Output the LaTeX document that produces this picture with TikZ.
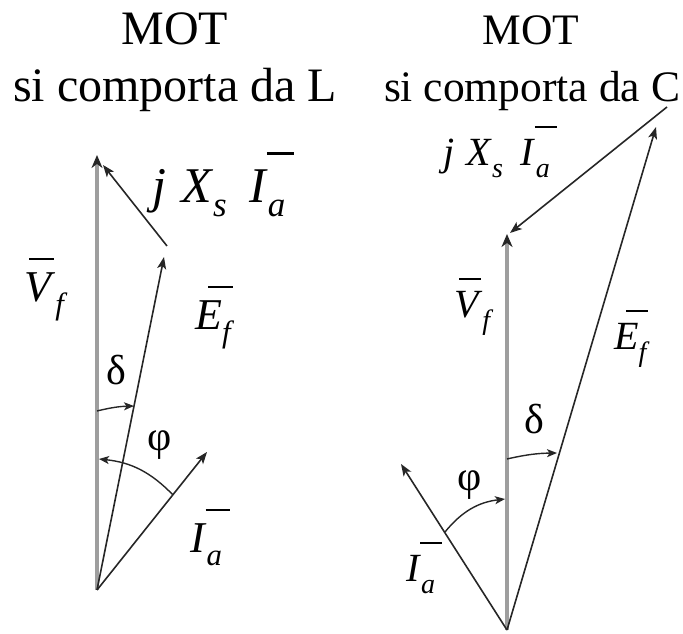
\documentclass[tikz,border=0pt]{standalone}
\usepackage{fontspec}
\setmainfont{Liberation Serif}
\usetikzlibrary{arrows.meta}
\newcommand\phasor[3][0.3em]{\rlap{\kern#1\raisebox{0.95em}{\rule{0.55em}{0.06em}}}\textit{#2}\raisebox{-0.28em}{\scalebox{0.7}{\textit{#3}}}}
\newcommand\jxs{\textit{j}\hspace{0.3em}\textit{X}\raisebox{-0.28em}{\scalebox{0.7}{\textit{s}}}\hspace{0.45em}}
\begin{document}
\begin{tikzpicture}[x=1pt,y=1pt,
  vec/.style={line width=1.6pt, draw=black!85, -{Stealth[length=12pt,width=9pt,inset=3pt]}},
  gvec/.style={line width=4.5pt, draw=black!38, -{Stealth[length=13pt,width=11pt,inset=4pt,color=black!85]}},
  angarc/.style={line width=1.4pt, draw=black!85, -{Stealth[length=10pt,width=8pt,inset=2.5pt]}},
  title/.style={font=\fontsize{48}{56}\selectfont, inner sep=0pt, anchor=base},
  titleR/.style={font=\fontsize{43.5}{50}\selectfont, inner sep=0pt, anchor=base},
  lblL/.style={font=\fontsize{44}{50}\selectfont, inner sep=0pt, anchor=base west},
  lblR/.style={font=\fontsize{40}{46}\selectfont, inner sep=0pt, anchor=base west},
  greek/.style={font=\fontsize{42}{46}\selectfont, inner sep=0pt}]
\useasboundingbox (0,0) rectangle (683,634);
% titles
\node[title] (t1) at (175,589) {MOT};
\node[title] (t2) at (175,532) {si comporta da L};
\node[titleR] (t3) at (531,589) {MOT};
\node[titleR] (t4) at (532,532) {si comporta da C};
% ---------- left diagram ----------
\coordinate (O1) at (97,44);
\coordinate (V1) at (97,479);
\coordinate (E1) at (164,377);
\coordinate (J1s) at (167,388);
\coordinate (J1e) at (103,469);
\coordinate (I1) at (207,182);
\draw[gvec] (O1) -- (V1);
\draw[vec] (O1) -- (E1);
\draw[vec] (J1s) -- (J1e);
\draw[vec] (O1) -- (I1);
\coordinate (dV1) at (97,223);
\coordinate (dE1) at (134,228);
\draw[angarc] (dV1) to[bend left=6] (dE1);
\coordinate (pI1) at (173,139);
\coordinate (pV1) at (99,175);
\draw[angarc] (pI1) to[bend right=20] (pV1);
\node[lblL] (Vf1) at (24,332) {\phasor[0.12em]{V}{f}};
\node[lblL, font=\fontsize{50}{56}\selectfont] (jx1) at (152,431) {\jxs\phasor[0.35em]{I}{a}};
\node[lblL] (Ef1) at (195,304) {\phasor[0.3em]{E}{f}};
\node[lblL] (Ia1) at (190,81) {\phasor[0.35em]{I}{a}};
\node[greek] (d1) at (116,264) {δ};
\node[greek] (p1) at (160,189) {φ};
% ---------- right diagram ----------
\coordinate (O2) at (507,4);
\coordinate (V2) at (507,400);
\coordinate (E2) at (656,507);
\coordinate (J2s) at (667,527);
\coordinate (J2e) at (510,401);
\coordinate (I2) at (401,170);
\draw[gvec] (O2) -- (V2);
\draw[vec] (O2) -- (E2);
\draw[vec] (J2s) -- (J2e);
\draw[vec] (O2) -- (I2);
\coordinate (dV2) at (507,175);
\coordinate (dE2) at (557,181);
\draw[angarc] (dV2) to[bend left=6] (dE2);
\coordinate (pI2) at (445,102);
\coordinate (pV2) at (505,135);
\draw[angarc] (pI2) to[bend left=22] (pV2);
\node[lblR] (jx2) at (443,468) {\jxs\phasor[0.35em]{I}{a}};
\node[lblR] (Vf2) at (454,316) {\phasor[0.12em]{V}{f}};
\node[lblR] (Ef2) at (614,284) {\phasor[0.3em]{E}{f}};
\node[lblR] (Ia2) at (406,52) {\phasor[0.35em]{I}{a}};
\node[greek] (d2) at (534,215) {δ};
\node[greek] (p2) at (470,149) {φ};
\end{tikzpicture}
\end{document}
